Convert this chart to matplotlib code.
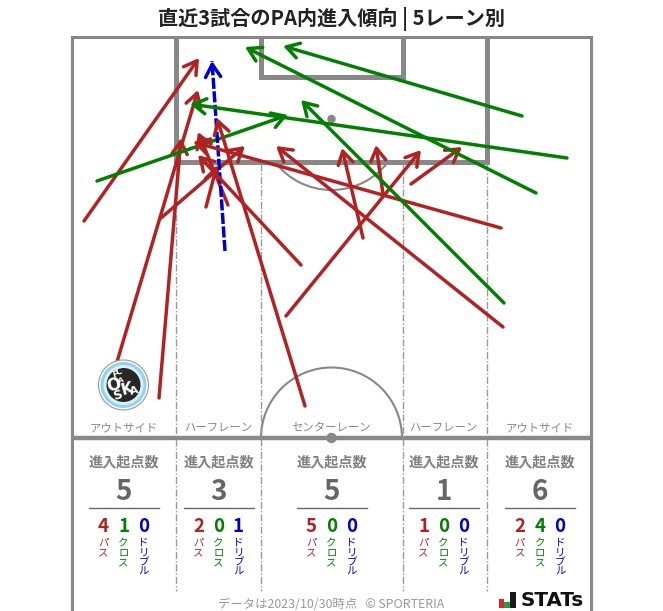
import matplotlib
matplotlib.use('Agg')
import matplotlib.pyplot as plt
from matplotlib.patches import Arc, Circle, Rectangle

plt.rcParams['font.family'] = ['Noto Sans CJK JP', 'DejaVu Sans']

RED = '#b22222'
GREEN = '#008000'
BLUE = '#0000cd'
LINE = '#888888'

# arrows per lane: x0, y0, x1, y1, kind (pixel positions of the picture)
lane1 = [(84, 221, 199, 58, 'pass'), (111, 382, 198, 90, 'pass'),
         (159, 398, 181, 138, 'pass'), (161, 218, 245, 146, 'pass'),
         (97, 181, 288, 115, 'cross')]
lane2 = [(206, 207, 217, 165, 'pass'), (228, 205, 198, 132, 'pass'),
         (225, 251, 212, 61, 'dribble')]
lane3 = [(305, 406, 217, 118, 'pass'), (301, 265, 198, 155, 'pass'),
         (286, 316, 421, 150, 'pass'), (363, 238, 342, 148, 'pass'),
         (383, 194, 376, 145, 'pass')]
lane4 = [(411, 184, 462, 147, 'pass')]
lane5 = [(501, 228, 193, 142, 'pass'), (503, 327, 276, 146, 'pass'),
         (522, 116, 283, 46, 'cross'), (536, 193, 245, 47, 'cross'),
         (567, 158, 190, 104, 'cross'), (504, 303, 301, 100, 'cross')]

lane_names = ['アウトサイド', 'ハーフレーン', 'センターレーン', 'ハーフレーン', 'アウトサイド']
lane_centers = [123.5, 218.5, 331.5, 443.5, 540]
totals = [5, 3, 5, 1, 6]
passes = [4, 2, 5, 1, 2]
crosses = [1, 0, 0, 0, 4]
dribbles = [0, 1, 0, 0, 0]

stats_bars_x = [499, 504, 509.5]
stats_bars_w = [5, 5.5, 6.5]
stats_bars_h = [9, 6, 16]
stats_bars_c = ['#e0202c', '#19a33c', '#1a1a1a']

logo_letters = ['F', 'C', 'O', 'S', 'A', 'K', 'A']
logo_x = [115, 119, 114, 118, 121, 127, 134]
logo_y = [375, 372, 385, 395, 380, 389, 391]
logo_size = [6, 6, 12, 9, 5, 11, 8]

fig = plt.figure(figsize=(6.63, 6.11), dpi=100)
ax = fig.add_axes([0, 0, 1, 1])
ax.set_xlim(0, 663)
ax.set_ylim(611, 0)
ax.axis('off')

ax.text(331, 19, '直近3試合のPA内進入傾向 | 5レーン別', ha='center', va='center',
        fontsize=14.5, fontweight='bold', color='#222222')

# pitch
ax.plot([71.5, 71.5, 591, 591], [611, 37, 37, 611], color=LINE, lw=2.2, solid_joinstyle='miter')
ax.plot([71.5, 591], [438, 438], color=LINE, lw=3.2, solid_capstyle='butt')
ax.plot([175.5, 175.5, 486.5, 486.5], [37, 162, 162, 37], color=LINE, lw=3.6,
        solid_joinstyle='miter', solid_capstyle='butt')
ax.plot([260.5, 260.5, 402.5, 402.5], [37, 77, 77, 37], color=LINE, lw=3.6,
        solid_joinstyle='miter', solid_capstyle='butt')
ax.add_patch(Arc((331.5, 119), 142, 142, theta1=37, theta2=143, color=LINE, lw=1.5))
ax.add_patch(Arc((331.5, 438), 141, 141, theta1=180, theta2=360, color=LINE, lw=1.5))
ax.add_patch(Circle((331.5, 119), 3.5, color=LINE, zorder=2))
ax.add_patch(Circle((331.5, 438), 4.5, color=LINE, zorder=2))
for x in [175.5, 260.5, 402.5, 486.5]:
    ax.plot([x, x], [164, 591], color='#999999', lw=1, ls=(0, (5, 1.5, 1, 1.5)))

# logo
ax.add_patch(Circle((123.5, 385), 25, fc='white', ec='#999999', lw=0.8, zorder=6))
ax.add_patch(Circle((123.5, 385), 23, fc='#8fd3f0', ec='none', zorder=6))
ax.add_patch(Circle((123.5, 385), 20, fc='#d8f0fa', ec='none', zorder=6))
ax.add_patch(Circle((123.5, 385), 17, fc='#2a2624', ec='none', zorder=6))
for ch, x, y, s in zip(logo_letters, logo_x, logo_y, logo_size):
    ax.text(x, y, ch, rotation=15, ha='center', va='center', color='white', fontsize=s,
            fontweight='bold', zorder=7, family='DejaVu Sans')

colors = {'pass': RED, 'cross': GREEN, 'dribble': BLUE}

for lane in [lane1, lane2, lane3, lane4, lane5]:
    for x0, y0, x1, y1, kind in lane:
        if kind == 'dribble':
            # round caps on the arrow patch hide the gaps, so the shaft is its own line
            ax.plot([x0, x1], [y0, y1], color=colors[kind], lw=2.5, zorder=4,
                    ls=(0, (3.2, 0.7)), dash_capstyle='butt')
            xy_from = (x1 + (x0 - x1) * 0.05, y1 + (y0 - y1) * 0.05)
        else:
            xy_from = (x0, y0)
        ax.annotate('', xy=(x1, y1), xytext=xy_from, zorder=4,
                    arrowprops=dict(arrowstyle='->,head_length=0.7,head_width=0.42',
                                    color=colors[kind], lw=2.5, shrinkA=0, shrinkB=0,
                                    mutation_scale=13))

for i, c in enumerate(lane_centers):
    ax.text(c, 428, lane_names[i], ha='center', va='center', fontsize=8.2, color='#888888')
    ax.text(c, 462, '進入起点数', ha='center', va='center', fontsize=10.2, fontweight='bold', color='#808080')
    ax.text(c, 492, str(totals[i]), ha='center', va='center', fontsize=20, fontweight='bold', color='#666666')
    ax.plot([c - 35, c + 35], [508, 508], color='#666666', lw=1)
    for dx, val, col, name in [(-20, passes[i], RED, 'パス'), (0, crosses[i], GREEN, 'クロス'),
                               (20, dribbles[i], BLUE, 'ドリブル')]:
        ax.text(c + dx, 526, str(val), ha='center', va='center', fontsize=13.5, fontweight='bold', color=col)
        ax.text(c + dx, 538, '\n'.join(name), ha='center', va='top', fontsize=7.5, color=col,
                linespacing=0.95)

ax.text(331, 604, 'データは2023/10/30時点   © SPORTERIA', ha='center', va='center',
        fontsize=8.9, color='#999999')

# stats logo
for x, w, h, c in zip(stats_bars_x, stats_bars_w, stats_bars_h, stats_bars_c):
    ax.add_patch(Rectangle((x, 608 - h), w, h, fc=c, ec='none'))
ax.text(521, 600, 'STATs', ha='left', va='center', fontsize=14.3, fontweight='bold',
        color='#111111', family='DejaVu Sans')

fig.savefig('out.png', dpi=100)
